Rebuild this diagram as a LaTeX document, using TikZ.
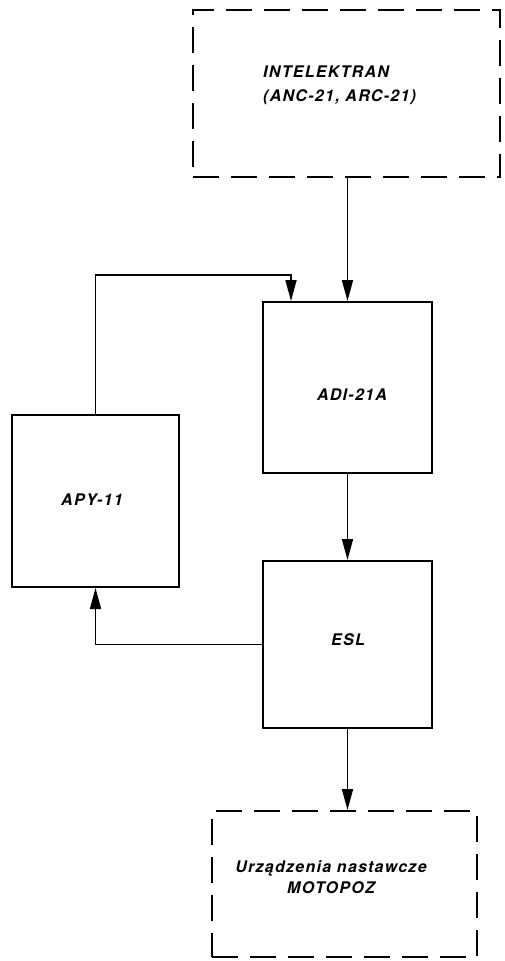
\documentclass[tikz,border=0pt]{standalone}
\usepackage{fontspec}
\setmainfont{TeX Gyre Heros}
\newfontfamily\lblfont{TeX Gyre Heros}[LetterSpace=8]
\usetikzlibrary{arrows.meta,calc}
\begin{document}
\begin{tikzpicture}[x=1pt,y=-1pt,
  blk/.style={draw,line width=2pt,inner sep=0pt},
  dbox/.style={draw,line width=2pt,inner sep=0pt,dash pattern=on 26pt off 12pt},
  lbl/.style={font=\lblfont\fontsize{16}{19}\selectfont\bfseries\itshape,inner sep=0pt},
  arr/.style={line width=1.7pt,-{Triangle[length=21pt,width=11pt]}}]
\useasboundingbox (0,0) rectangle (505,961);
\node[dbox,minimum width=307pt,minimum height=167pt] (intel) at (346.5,93.5) {};
\node[lbl,anchor=west,align=left] (inteltxt) at (263,85) {INTELEKTRAN\\[5pt](ANC-21, ARC-21)};
\node[blk,minimum width=169pt,minimum height=171pt] (adi) at (347.5,387.5) {};
\node[lbl] (aditxt) at (352,395) {ADI-21A};
\node[blk,minimum width=167pt,minimum height=172pt] (apy) at (95.5,501) {};
\node[lbl] (apytxt) at (92,500) {APY-11};
\node[blk,minimum width=169pt,minimum height=167pt] (esl) at (347.5,644.5) {};
\node[lbl] (esltxt) at (348,640) {ESL};
\node[dbox,minimum width=265pt,minimum height=146pt] (moto) at (344.5,884) {};
\node[lbl,align=center] (mototxt) at (331,877) {Urządzenia nastawcze\\[2pt]MOTOPOZ};
\coordinate (c1) at (291,275);
\draw[arr] (adi.north |- intel.south) -- (adi.north);
\draw[arr] (apy.north) |- (c1) -- (c1 |- adi.north);
\draw[arr] (adi.south) -- (esl.north);
\draw[arr] (esl.west) -| (apy.south);
\draw[arr] (esl.south) -- (esl.south |- moto.north);
\end{tikzpicture}
\end{document}
